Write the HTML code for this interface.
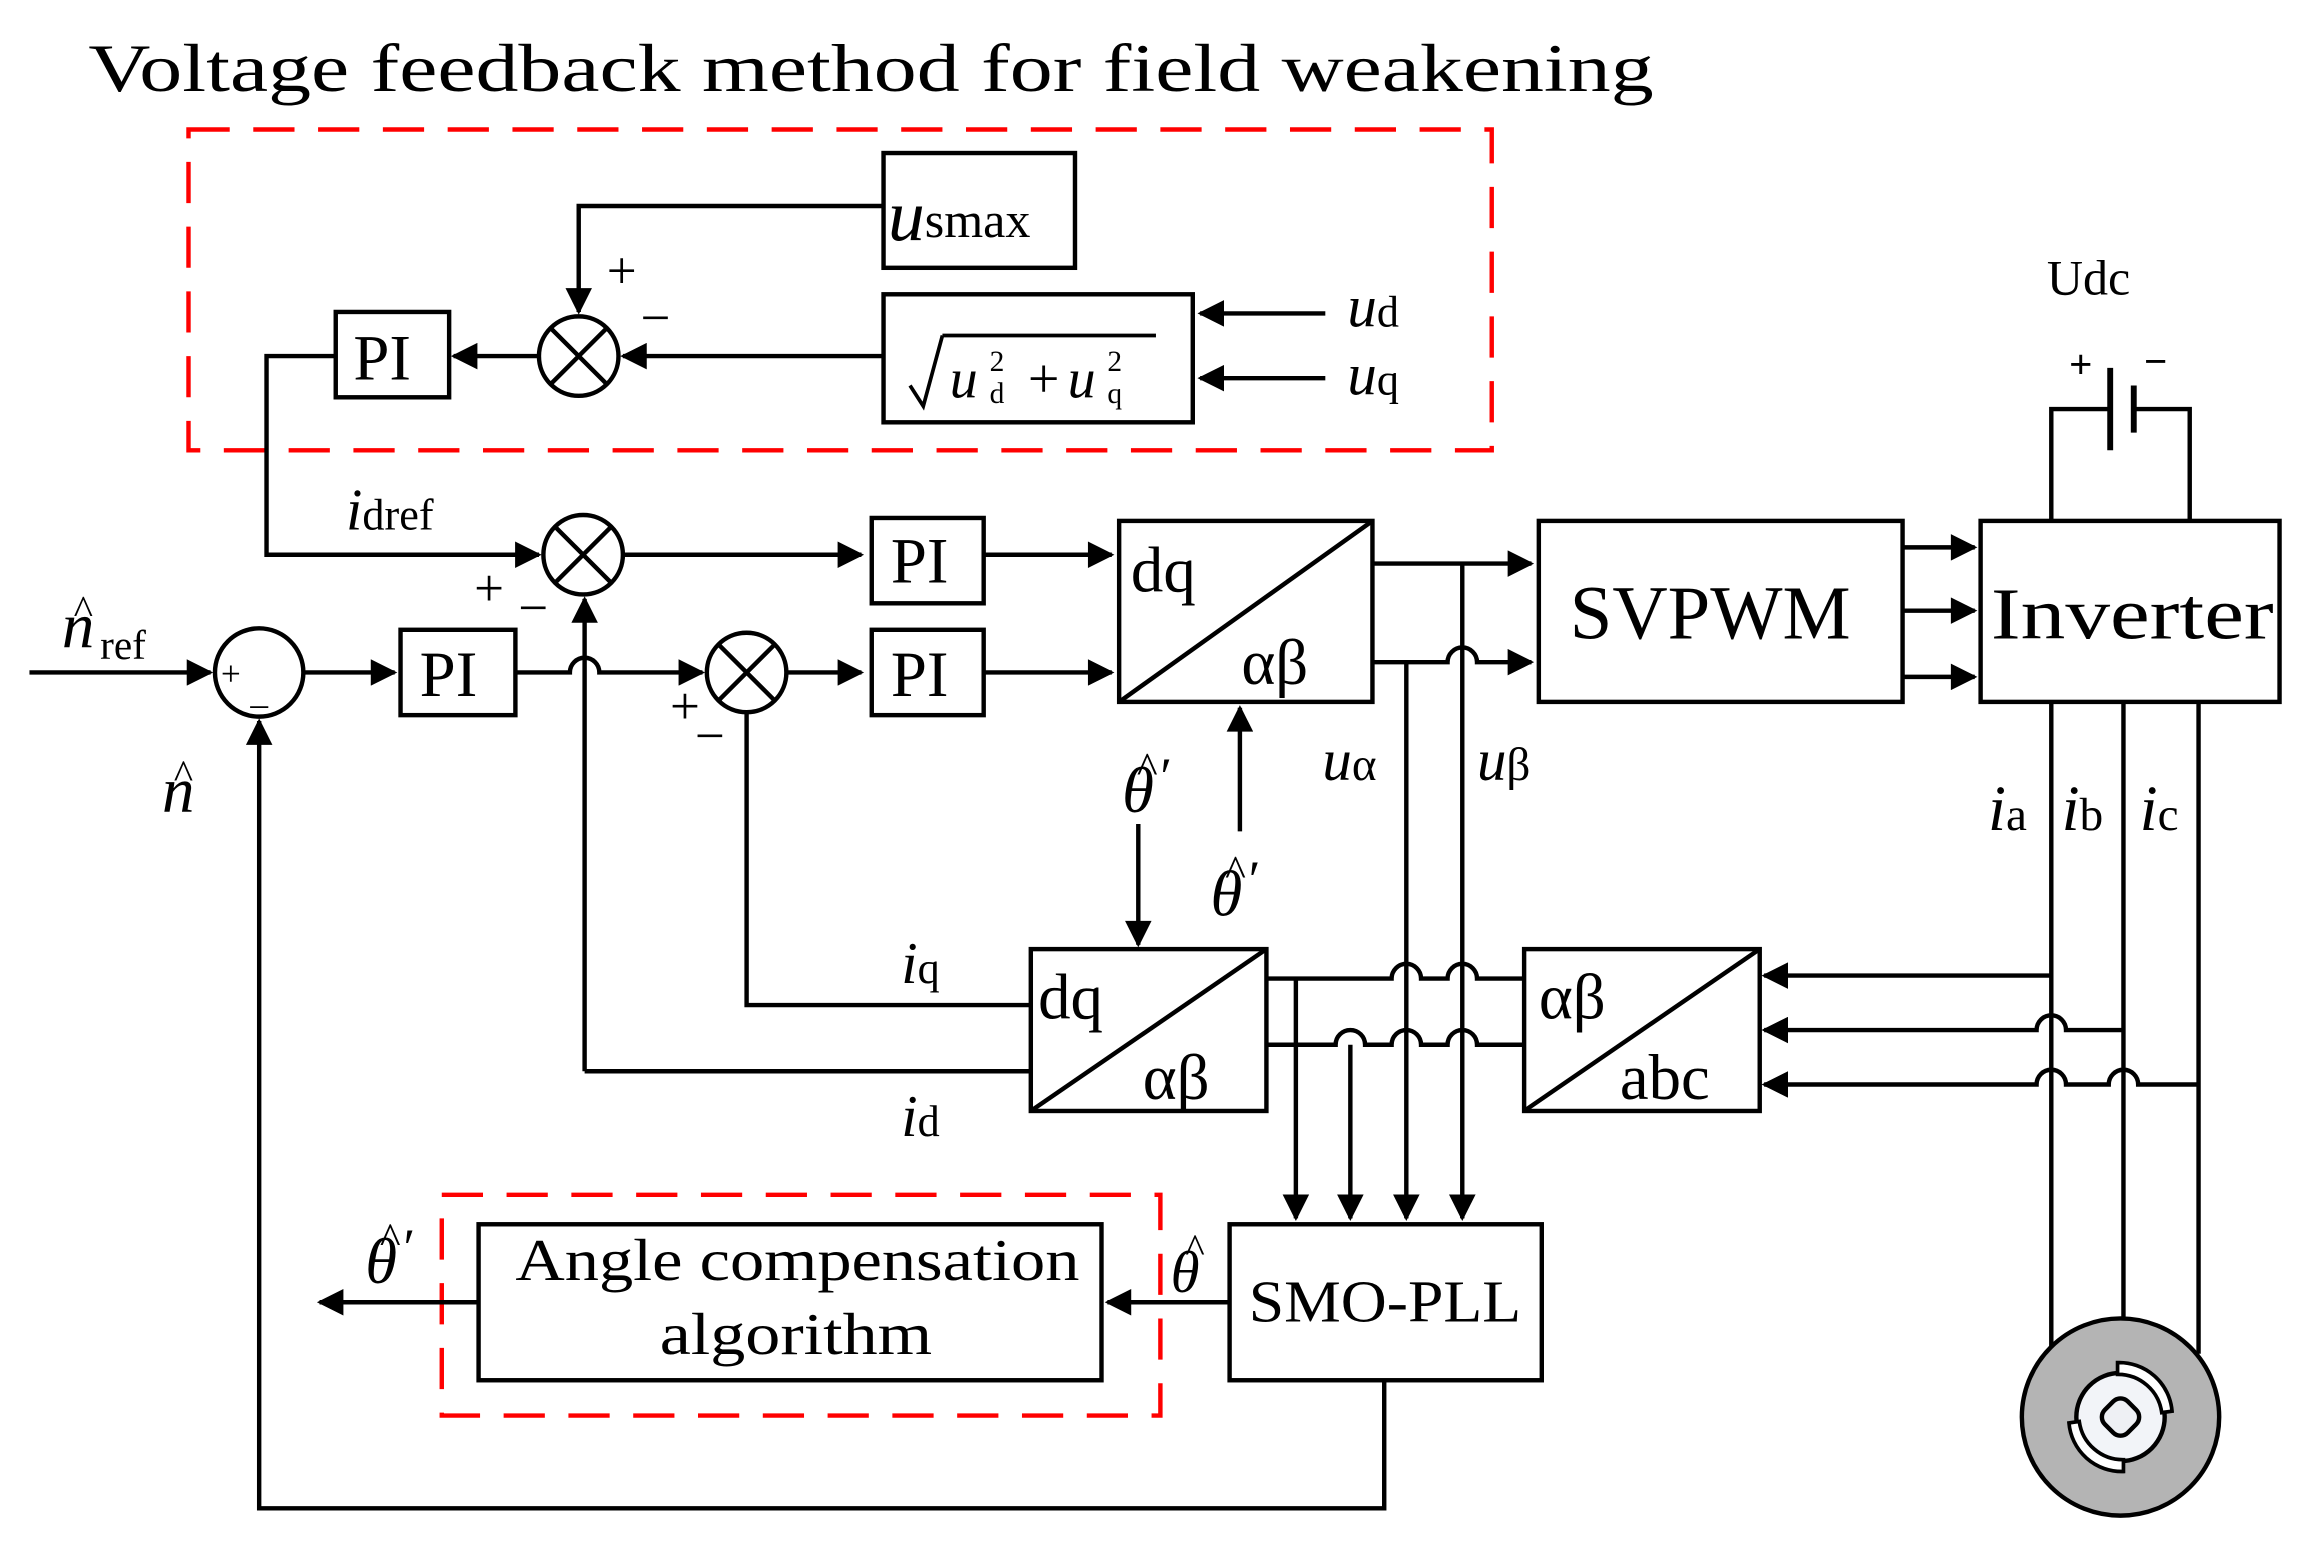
<!DOCTYPE html>
<html><head><meta charset="utf-8">
<style>
html,body{margin:0;padding:0;background:#fff;}
svg{display:block;}
text{font-family:"Liberation Serif",serif;fill:#000;}
.i{font-style:italic;}
</style></head>
<body>
<svg width="2309" height="1548" viewBox="0 0 1568 1052" preserveAspectRatio="none" xmlns="http://www.w3.org/2000/svg">
<defs>
<marker id="b" viewBox="0 0 10 10" refX="9" refY="5" markerWidth="22" markerHeight="18" markerUnits="userSpaceOnUse" orient="auto">
<path d="M0,0 L10,5 L0,10 z" fill="#000"/></marker>
</defs>
<g stroke="#000" stroke-width="3" fill="none">
<rect x="128" y="88" width="885" height="218" stroke="#f00" stroke-dasharray="28,16"/>
<rect x="300" y="812" width="488" height="150" stroke="#f00" stroke-dasharray="28,16"/>
<rect x="600" y="104" width="130" height="78"/>
<rect x="600" y="200" width="210" height="87"/>
<rect x="228" y="212" width="77" height="58"/>
<circle cx="393" cy="242" r="27"/>
<path d="M374,223 L412,261 M412,223 L374,261"/>
<path d="M600,140 H393 V212" marker-end="url(#b)"/>
<path d="M600,242 H423" marker-end="url(#b)"/>
<path d="M366,242 H308" marker-end="url(#b)"/>
<path d="M900,213 H815" marker-end="url(#b)"/>
<path d="M900,257 H815" marker-end="url(#b)"/>
<path d="M228,242 H181 V377 H366" marker-end="url(#b)"/>
<circle cx="396" cy="377" r="27"/>
<path d="M377,358 L415,396 M415,358 L377,396"/>
<path d="M423,377 H585" marker-end="url(#b)"/>
<rect x="592" y="352" width="76" height="58"/>
<path d="M668,377 H755" marker-end="url(#b)"/>
<rect x="760" y="354" width="172" height="123"/>
<path d="M760,477 L932,354"/>
<path d="M20,457 H143" marker-end="url(#b)"/>
<circle cx="176" cy="457" r="30"/>
<path d="M206,457 H268" marker-end="url(#b)"/>
<rect x="272" y="428" width="78" height="58"/>
<path d="M350,457 H387 A10,10 0 0 1 407,457 H477" marker-end="url(#b)"/>
<circle cx="507" cy="457" r="27"/>
<path d="M488,438 L526,476 M526,438 L488,476"/>
<path d="M534,457 H585" marker-end="url(#b)"/>
<rect x="592" y="428" width="76" height="58"/>
<path d="M668,457 H755" marker-end="url(#b)"/>
<path d="M397,728 V407" marker-end="url(#b)"/>
<path d="M507,484 V683 H700"/>
<path d="M397,728 H700"/>
<path d="M932,383 H1040" marker-end="url(#b)"/>
<path d="M932,450 H983 A10,10 0 0 1 1003,450 H1040" marker-end="url(#b)"/>
<rect x="1045" y="354" width="247" height="123"/>
<path d="M1292,372 H1341" marker-end="url(#b)"/>
<path d="M1292,415 H1341" marker-end="url(#b)"/>
<path d="M1292,460 H1341" marker-end="url(#b)"/>
<rect x="1345" y="354" width="203" height="123"/>
<path d="M1393,354 V278 H1432 M1450,278 H1487 V354"/>
<path d="M1433,250 V306" stroke-width="4"/>
<path d="M1449,262 V294" stroke-width="4"/>
<path d="M1393,477 V920 M1442,477 V900 M1493,477 V920"/>
<circle cx="1440" cy="963" r="67" fill="#b4b4b4"/>
<circle cx="1440" cy="963" r="30" fill="#f2f4f8"/>
<path d="M1405,967 A36,36 0 0 0 1442,1000 L1442,992 A30,30 0 0 1 1412,966 Z" fill="#fff" stroke-width="2.5"/>
<path d="M1475,959 A36,36 0 0 0 1438,926 L1438,934 A30,30 0 0 1 1468,960 Z" fill="#fff" stroke-width="2.5"/>
<rect x="1429" y="952" width="22" height="22" rx="7" fill="#eef0f4" transform="rotate(45 1440 963)"/>
<path d="M773,560 V642" marker-end="url(#b)"/>
<path d="M842,565 V481" marker-end="url(#b)"/>
<rect x="700" y="645" width="160" height="110"/>
<path d="M700,755 L860,645"/>
<rect x="1035" y="645" width="160" height="110"/>
<path d="M1035,755 L1195,645"/>
<path d="M860,665 H945 A10,10 0 0 1 965,665 H983 A10,10 0 0 1 1003,665 H1035"/>
<path d="M860,710 H907 A10,10 0 0 1 927,710 H945 A10,10 0 0 1 965,710 H983 A10,10 0 0 1 1003,710 H1035"/>
<path d="M880,665 V828" marker-end="url(#b)"/>
<path d="M917,710 V828" marker-end="url(#b)"/>
<path d="M955,450 V828" marker-end="url(#b)"/>
<path d="M993,383 V828" marker-end="url(#b)"/>
<path d="M1393,663 H1198" marker-end="url(#b)"/>
<path d="M1442,700 H1403 A10,10 0 0 0 1383,700 H1198" marker-end="url(#b)"/>
<path d="M1493,737 H1452 A10,10 0 0 0 1432,737 H1403 A10,10 0 0 0 1383,737 H1198" marker-end="url(#b)"/>
<rect x="835" y="832" width="212" height="106"/>
<path d="M835,885 H752" marker-end="url(#b)"/>
<rect x="325" y="832" width="423" height="106"/>
<path d="M325,885 H217" marker-end="url(#b)"/>
<path d="M940,938 V1025 H176 V490" marker-end="url(#b)"/>
<path d="M640,228 L627,276 L618,262" stroke-width="2.5"/>
<path d="M640,228 H785" stroke-width="2.5"/>
</g>
<g>
<text x="60" y="62" font-size="46" textLength="1063" lengthAdjust="spacingAndGlyphs">Voltage feedback method for field weakening</text>
<text x="603" y="163" font-size="50"><tspan class="i">u</tspan><tspan font-size="34" dy="-2">smax</tspan></text>
<text x="645" y="270" font-size="38" class="i">u</text><text x="672" y="274" font-size="20">d</text><text x="672" y="252" font-size="20">2</text>
<text x="698" y="270" font-size="38">+</text>
<text x="725" y="270" font-size="38" class="i">u</text><text x="752" y="274" font-size="20">q</text><text x="752" y="252" font-size="20">2</text>
<text x="240" y="258" font-size="44">PI</text>
<text x="412" y="196" font-size="36">+</text>
<text x="435" y="228" font-size="36">−</text>
<text x="915" y="222" font-size="40"><tspan class="i">u</tspan><tspan font-size="30">d</tspan></text>
<text x="915" y="268" font-size="40"><tspan class="i">u</tspan><tspan font-size="30">q</tspan></text>
<text x="235" y="360" font-size="40"><tspan class="i">i</tspan><tspan font-size="30">dref</tspan></text>
<text x="322" y="412" font-size="36">+</text><text x="352" y="425" font-size="36">−</text>
<text x="605" y="396" font-size="44">PI</text>
<text x="605" y="473" font-size="44">PI</text>
<text x="285" y="473" font-size="44">PI</text>
<text x="768" y="402" font-size="44">dq</text>
<text x="843" y="465" font-size="44">αβ</text>
<text x="42" y="440" font-size="44" class="i">n</text><text x="50" y="424" font-size="28">^</text><text x="68" y="448" font-size="28">ref</text>
<text x="150" y="466" font-size="24">+</text><text x="170" y="478" font-size="24">_</text>
<text x="110" y="552" font-size="44" class="i">n</text><text x="118" y="536" font-size="28">^</text>
<text x="455" y="492" font-size="36">+</text><text x="472" y="512" font-size="36">−</text>
<text x="1066" y="434" font-size="52">SVPWM</text>
<text x="1352" y="434" font-size="50" textLength="192" lengthAdjust="spacingAndGlyphs">Inverter</text>
<text x="1390" y="200" font-size="34">Udc</text>
<text x="1405" y="257" font-size="28" font-weight="bold">+</text><text x="1456" y="255" font-size="28" font-weight="bold">−</text>
<text x="1350" y="564" font-size="44"><tspan class="i">i</tspan><tspan font-size="32">a</tspan></text>
<text x="1400" y="564" font-size="44"><tspan class="i">i</tspan><tspan font-size="32">b</tspan></text>
<text x="1453" y="564" font-size="44"><tspan class="i">i</tspan><tspan font-size="32">c</tspan></text>
<text x="762" y="552" font-size="44" class="i">θ</text><text x="772" y="532" font-size="30">^</text><text x="788" y="540" font-size="36">′</text>
<text x="822" y="622" font-size="44" class="i">θ</text><text x="832" y="602" font-size="30">^</text><text x="848" y="610" font-size="36">′</text>
<text x="898" y="530" font-size="40"><tspan class="i">u</tspan><tspan font-size="32">α</tspan></text>
<text x="1003" y="530" font-size="40"><tspan class="i">u</tspan><tspan font-size="32">β</tspan></text>
<text x="705" y="692" font-size="44">dq</text>
<text x="776" y="747" font-size="44">αβ</text>
<text x="1045" y="692" font-size="44">αβ</text>
<text x="1100" y="747" font-size="44">abc</text>
<text x="612" y="668" font-size="40"><tspan class="i">i</tspan><tspan font-size="30">q</tspan></text>
<text x="612" y="772" font-size="40"><tspan class="i">i</tspan><tspan font-size="30">d</tspan></text>
<text x="848" y="898" font-size="40" textLength="185" lengthAdjust="spacingAndGlyphs">SMO-PLL</text>
<text x="350" y="870" font-size="40" textLength="383" lengthAdjust="spacingAndGlyphs">Angle compensation</text>
<text x="448" y="920" font-size="40" textLength="185" lengthAdjust="spacingAndGlyphs">algorithm</text>
<text x="795" y="878" font-size="40" class="i">θ</text><text x="805" y="858" font-size="28">^</text>
<text x="248" y="872" font-size="44" class="i">θ</text><text x="258" y="852" font-size="30">^</text><text x="274" y="860" font-size="36">′</text>
</g>
</svg>
</body></html>
